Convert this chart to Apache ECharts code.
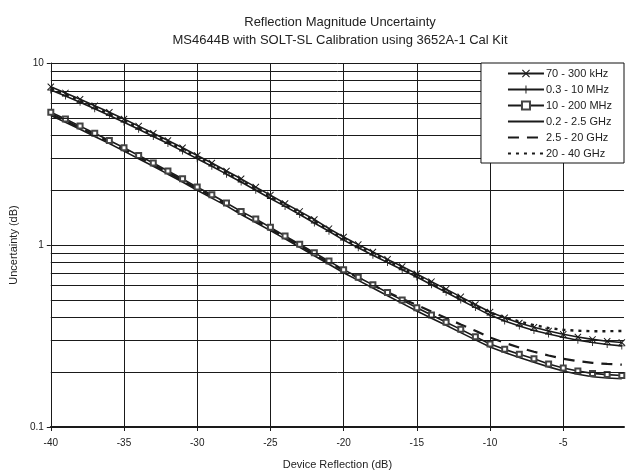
<!DOCTYPE html>
<html>
<head>
<meta charset="utf-8">
<script src="https://cdn.jsdelivr.net/npm/echarts@6/dist/echarts.min.js"></script>
<style>html,body{margin:0;padding:0;background:#fff}#c{width:627px;height:475px}</style>
</head>
<body>
<div id="c"></div>
<script>
const reflection = [-40,-39,-38,-37,-36,-35,-34,-33,-32,-31,-30,-29,-28,-27,-26,-25,-24,-23,-22,-21,-20,-19,-18,-17,-16,-15,-14,-13,-12,-11,-10,-9,-8,-7,-6,-5,-4,-3,-2,-1];

const s70k = [7.40,6.85,6.32,5.82,5.36,4.92,4.50,4.11,3.75,3.42,3.10,2.82,2.55,2.31,2.08,1.88,1.69,1.53,1.38,1.23,1.107,1.005,0.915,0.834,0.761,0.694,0.629,0.572,0.519,0.471,0.428,0.398,0.373,0.353,0.337,0.323,0.312,0.303,0.296,0.291];
const s03M = [7.11,6.59,6.08,5.60,5.15,4.73,4.32,3.95,3.61,3.28,2.98,2.71,2.45,2.22,2.00,1.80,1.63,1.47,1.32,1.19,1.064,0.966,0.879,0.802,0.731,0.667,0.605,0.550,0.499,0.453,0.412,0.382,0.359,0.339,0.324,0.311,0.300,0.291,0.284,0.279];
const s10M = [5.36,4.92,4.50,4.11,3.75,3.42,3.10,2.82,2.55,2.31,2.08,1.89,1.70,1.53,1.39,1.25,1.12,1.01,0.908,0.816,0.732,0.665,0.604,0.548,0.498,0.452,0.412,0.376,0.344,0.313,0.286,0.267,0.251,0.237,0.222,0.211,0.203,0.197,0.194,0.192];
const s02G = [5.15,4.73,4.32,3.95,3.61,3.28,2.98,2.71,2.45,2.22,2.00,1.81,1.64,1.47,1.33,1.20,1.08,0.971,0.873,0.784,0.704,0.639,0.580,0.526,0.478,0.434,0.396,0.362,0.330,0.301,0.275,0.257,0.241,0.227,0.214,0.203,0.195,0.189,0.186,0.184];
const s25G = [5.25,4.82,4.41,4.03,3.68,3.35,3.04,2.76,2.50,2.26,2.04,1.85,1.67,1.50,1.36,1.225,1.10,0.99,0.89,0.80,0.725,0.660,0.603,0.550,0.506,0.468,0.430,0.397,0.366,0.338,0.310,0.290,0.273,0.259,0.247,0.237,0.230,0.225,0.222,0.220];
const s20G = [7.25,6.72,6.20,5.71,5.25,4.82,4.41,4.03,3.68,3.35,3.04,2.76,2.50,2.26,2.04,1.84,1.66,1.50,1.35,1.21,1.085,0.985,0.897,0.818,0.746,0.680,0.617,0.561,0.509,0.462,0.425,0.400,0.380,0.363,0.350,0.342,0.338,0.336,0.336,0.337];

const seriesNames = ['70 - 300 kHz','0.3 - 10 MHz','10 - 200 MHz','0.2 - 2.5 GHz','2.5 - 20 GHz','20 - 40 GHz'];
const xTicks = [-40,-35,-30,-25,-20,-15,-10,-5];
const minorGridValues = [0.2,0.3,0.4,0.5,0.6,0.7,0.8,0.9,2,3,4,5,6,7,8,9];

const pair = arr => reflection.map((x, i) => [x, arr[i]]);
const INK = '#1a1a1a';
const crossPath = 'path://M0,1 L1,0 L5,4 L9,0 L10,1 L6,5 L10,9 L9,10 L5,6 L1,10 L0,9 L4,5 Z';
const plusPath = 'path://M4.4,0 H5.6 V4.4 H10 V5.6 H5.6 V10 H4.4 V5.6 H0 V4.4 H4.4 Z';

function mk(name, data, opts) {
  return Object.assign({
    name: name, type: 'line', data: pair(data),
    showSymbol: false, showAllSymbol: true, symbol: 'none',
    lineStyle: { color: INK, width: 1.6, type: 'solid' },
    itemStyle: { color: 'rgba(0,0,0,0)', borderWidth: 0 },
    silent: true, z: 3
  }, opts);
}

const chart = echarts.init(document.getElementById('c'), null, { renderer: 'canvas' });
chart.setOption({
  animation: false,
  backgroundColor: '#fff',
  textStyle: { fontFamily: 'Liberation Sans, Arial, sans-serif' },
  title: {
    text: 'Reflection Magnitude Uncertainty\nMS4644B with SOLT-SL Calibration using 3652A-1 Cal Kit',
    left: 335, textAlign: 'center', top: 8,
    textStyle: { fontSize: 13, fontWeight: 'normal', color: '#222', lineHeight: 18, fontFamily: 'Liberation Sans, Arial, sans-serif' }
  },
  legend: {
    data: seriesNames,
    orient: 'vertical', right: 3, top: 63,
    itemWidth: 36, itemHeight: 10, itemGap: 5,
    padding: [5, 12, 4, 26],
    backgroundColor: '#fff', borderColor: '#111', borderWidth: 1,
    textStyle: { fontSize: 11, color: '#222', padding: [0, 0, 0, -3] },
    selectedMode: false, z: 10
  },
  grid: { left: 39, right: 3, top: 63, bottom: 45, containLabel: false },
  xAxis: {
    type: 'value', min: -40, max: -0.85, interval: 5,
    name: 'Device Reflection (dB)', nameLocation: 'middle', nameGap: 32,
    nameTextStyle: { fontSize: 11, color: '#222' },
    axisLine: { show: true, onZero: false, lineStyle: { color: INK, width: 2 } },
    axisTick: { show: true, length: 4, lineStyle: { color: INK } },
    axisLabel: { fontSize: 10, color: '#222', margin: 11, showMaxLabel: false,
      formatter: v => (xTicks.indexOf(v) >= 0 ? String(v) : '') },
    splitLine: { show: true, showMaxLine: false, lineStyle: { color: INK, width: 1 } }
  },
  yAxis: {
    type: 'log', logBase: 10, min: 0.1, max: 10,
    name: 'Uncertainty (dB)', nameLocation: 'middle', nameGap: 22,
    nameTextStyle: { fontSize: 11, color: '#222' },
    axisLine: { show: true, lineStyle: { color: INK, width: 1 } },
    axisTick: { show: true, length: 4, lineStyle: { color: INK } },
    axisLabel: { fontSize: 10, color: '#222', margin: 7, formatter: v => String(v) },
    splitLine: { show: true, lineStyle: { color: INK, width: 1 } }
  },
  series: [
    {
      name: 'grid', type: 'line', data: [], silent: true, z: 1,
      markLine: {
        silent: true, symbol: 'none', animation: false,
        label: { show: false },
        lineStyle: { color: INK, width: 1, type: 'solid' },
        emphasis: { disabled: true },
        data: minorGridValues.map(v => ({ yAxis: v }))
      }
    },
    mk(seriesNames[0], s70k, { symbol: crossPath, showSymbol: true, symbolSize: 7, itemStyle: { color: INK } }),
    mk(seriesNames[1], s03M, { symbol: plusPath, showSymbol: true, symbolSize: 7, itemStyle: { color: INK } }),
    mk(seriesNames[2], s10M, { symbol: 'emptyRect', showSymbol: true, symbolSize: 5, itemStyle: { color: '#444', borderWidth: 1 } }),
    mk(seriesNames[3], s02G, {}),
    mk(seriesNames[4], s25G, { lineStyle: { color: INK, width: 2.2, type: [11, 8] } }),
    mk(seriesNames[5], s20G, { lineStyle: { color: INK, width: 2.4, type: [3, 5] } })
  ]
});
</script>
</body>
</html>
